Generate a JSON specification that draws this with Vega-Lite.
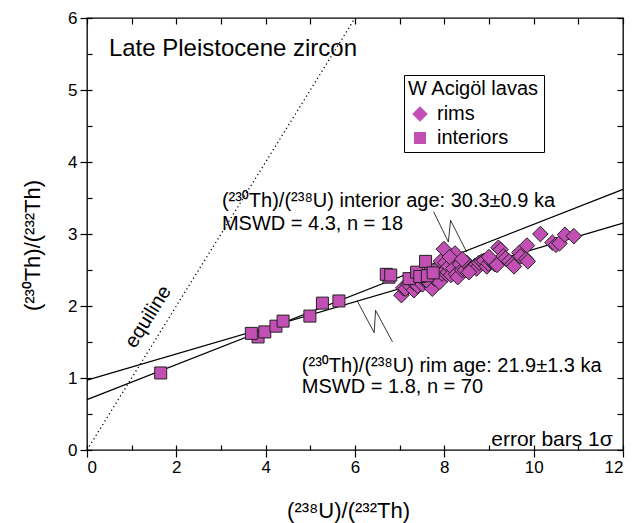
{
  "$schema": "https://vega.github.io/schema/vega-lite/v6.json",
  "width": 536,
  "height": 432,
  "autosize": {"type": "none"},
  "padding": {"left": 87, "top": 18, "right": 9, "bottom": 73},
  "config": {
    "font": "Liberation Sans, Noto Sans",
    "view": {"stroke": "black", "strokeWidth": 1.3},
    "axis": {
      "grid": false,
      "domain": false,
      "tickColor": "black",
      "tickWidth": 1.2,
      "labelColor": "black",
      "titleColor": "black",
      "labelFontSize": 17,
      "titleFontSize": 22,
      "titleFontWeight": "normal"
    }
  },
  "resolve": {"axis": {"x": "independent", "y": "independent"}},
  "layer": [
    {
      "data": {"values": [{"x": 0, "y": 0}, {"x": 6, "y": 6}]},
      "mark": {"type": "line", "color": "black", "strokeDash": [1.2, 3], "strokeWidth": 1.3},
      "encoding": {
        "x": {"field": "x", "type": "quantitative", "scale": {"domain": [0, 12], "nice": false},
          "axis": {"orient": "top", "values": [0,1,2,3,4,5,6,7,8,9,10,11,12], "labels": false, "tickSize": -6, "title": null}},
        "y": {"field": "y", "type": "quantitative", "scale": {"domain": [0, 6], "nice": false},
          "axis": {"orient": "right", "values": [0,0.5,1,1.5,2,2.5,3,3.5,4,4.5,5,5.5,6], "labels": false, "tickSize": -6, "title": null}}
      }
    },
    {
      "data": {"values": [
        {"isochron": "interior", "x": 0, "y": 0.70},
        {"isochron": "interior", "x": 12, "y": 3.62},
        {"isochron": "rim", "x": 0, "y": 0.97},
        {"isochron": "rim", "x": 12, "y": 3.15}
      ]},
      "mark": {"type": "line", "color": "black", "strokeWidth": 1.2},
      "encoding": {
        "x": {"field": "x", "type": "quantitative",
          "axis": {"orient": "bottom", "values": [0,1,2,3,4,5,6,7,8,9,10,11,12], "labels": false, "tickSize": -5, "title": null}},
        "y": {"field": "y", "type": "quantitative",
          "axis": {"orient": "left", "values": [0,0.5,1,1.5,2,2.5,3,3.5,4,4.5,5,5.5,6], "labels": false, "tickSize": -5, "title": null}},
        "detail": {"field": "isochron"}
      }
    },
    {
      "data": {"values": [
        {"leader": "interior", "seq": 1, "x": 7.76, "y": 3.31},
        {"leader": "interior", "seq": 2, "x": 8.09, "y": 2.89},
        {"leader": "interior", "seq": 3, "x": 8.14, "y": 3.19},
        {"leader": "interior", "seq": 4, "x": 8.50, "y": 2.75},
        {"leader": "rim", "seq": 1, "x": 6.05, "y": 2.07},
        {"leader": "rim", "seq": 2, "x": 6.43, "y": 1.63},
        {"leader": "rim", "seq": 3, "x": 6.46, "y": 1.94},
        {"leader": "rim", "seq": 4, "x": 6.84, "y": 1.50}
      ]},
      "mark": {"type": "line", "color": "black", "strokeWidth": 0.8},
      "encoding": {
        "x": {"field": "x", "type": "quantitative", "axis": null},
        "y": {"field": "y", "type": "quantitative", "axis": null},
        "detail": {"field": "leader"},
        "order": {"field": "seq", "type": "quantitative"}
      }
    },
    {
      "data": {"values": [
        {"type": "rims", "x": 7.04, "y": 2.15},
        {"type": "rims", "x": 7.08, "y": 2.25},
        {"type": "rims", "x": 7.13, "y": 2.24},
        {"type": "rims", "x": 7.20, "y": 2.30},
        {"type": "rims", "x": 7.28, "y": 2.35},
        {"type": "rims", "x": 7.32, "y": 2.22},
        {"type": "rims", "x": 7.32, "y": 2.32},
        {"type": "rims", "x": 7.40, "y": 2.28},
        {"type": "rims", "x": 7.45, "y": 2.40},
        {"type": "rims", "x": 7.51, "y": 2.30},
        {"type": "rims", "x": 7.55, "y": 2.36},
        {"type": "rims", "x": 7.60, "y": 2.44},
        {"type": "rims", "x": 7.65, "y": 2.32},
        {"type": "rims", "x": 7.71, "y": 2.29},
        {"type": "rims", "x": 7.73, "y": 2.24},
        {"type": "rims", "x": 7.78, "y": 2.38},
        {"type": "rims", "x": 7.82, "y": 2.50},
        {"type": "rims", "x": 7.87, "y": 2.39},
        {"type": "rims", "x": 7.89, "y": 2.33},
        {"type": "rims", "x": 7.92, "y": 2.62},
        {"type": "rims", "x": 7.95, "y": 2.45},
        {"type": "rims", "x": 7.99, "y": 2.79},
        {"type": "rims", "x": 8.02, "y": 2.60},
        {"type": "rims", "x": 8.06, "y": 2.44},
        {"type": "rims", "x": 8.08, "y": 2.47},
        {"type": "rims", "x": 8.10, "y": 2.55},
        {"type": "rims", "x": 8.15, "y": 2.43},
        {"type": "rims", "x": 8.20, "y": 2.52},
        {"type": "rims", "x": 8.24, "y": 2.73},
        {"type": "rims", "x": 8.26, "y": 2.44},
        {"type": "rims", "x": 8.30, "y": 2.40},
        {"type": "rims", "x": 8.35, "y": 2.58},
        {"type": "rims", "x": 8.40, "y": 2.50},
        {"type": "rims", "x": 8.46, "y": 2.50},
        {"type": "rims", "x": 8.50, "y": 2.60},
        {"type": "rims", "x": 8.53, "y": 2.57},
        {"type": "rims", "x": 8.60, "y": 2.52},
        {"type": "rims", "x": 8.69, "y": 2.56},
        {"type": "rims", "x": 8.72, "y": 2.52},
        {"type": "rims", "x": 8.78, "y": 2.60},
        {"type": "rims", "x": 8.84, "y": 2.62},
        {"type": "rims", "x": 8.89, "y": 2.63},
        {"type": "rims", "x": 8.95, "y": 2.55},
        {"type": "rims", "x": 8.99, "y": 2.59},
        {"type": "rims", "x": 9.05, "y": 2.62},
        {"type": "rims", "x": 9.13, "y": 2.58},
        {"type": "rims", "x": 9.18, "y": 2.57},
        {"type": "rims", "x": 9.21, "y": 2.81},
        {"type": "rims", "x": 9.26, "y": 2.78},
        {"type": "rims", "x": 9.32, "y": 2.69},
        {"type": "rims", "x": 9.37, "y": 2.66},
        {"type": "rims", "x": 9.45, "y": 2.62},
        {"type": "rims", "x": 9.52, "y": 2.58},
        {"type": "rims", "x": 9.56, "y": 2.55},
        {"type": "rims", "x": 9.68, "y": 2.74},
        {"type": "rims", "x": 9.71, "y": 2.69},
        {"type": "rims", "x": 9.83, "y": 2.65},
        {"type": "rims", "x": 9.85, "y": 2.84},
        {"type": "rims", "x": 9.87, "y": 2.62},
        {"type": "rims", "x": 10.15, "y": 3.00},
        {"type": "rims", "x": 10.42, "y": 2.88},
        {"type": "rims", "x": 10.50, "y": 2.85},
        {"type": "rims", "x": 10.58, "y": 2.87},
        {"type": "rims", "x": 10.70, "y": 2.99},
        {"type": "rims", "x": 10.90, "y": 2.97},
        {"type": "rims", "x": 8.12, "y": 2.68},
        {"type": "rims", "x": 8.40, "y": 2.65},
        {"type": "rims", "x": 7.60, "y": 2.36},
        {"type": "rims", "x": 8.55, "y": 2.47},
        {"type": "rims", "x": 9.00, "y": 2.68},
        {"type": "interiors", "x": 1.65, "y": 1.07},
        {"type": "interiors", "x": 3.83, "y": 1.57},
        {"type": "interiors", "x": 3.68, "y": 1.62},
        {"type": "interiors", "x": 3.98, "y": 1.64},
        {"type": "interiors", "x": 4.23, "y": 1.72},
        {"type": "interiors", "x": 4.39, "y": 1.79},
        {"type": "interiors", "x": 4.99, "y": 1.86},
        {"type": "interiors", "x": 5.27, "y": 2.04},
        {"type": "interiors", "x": 5.64, "y": 2.07},
        {"type": "interiors", "x": 6.76, "y": 2.40},
        {"type": "interiors", "x": 6.70, "y": 2.44},
        {"type": "interiors", "x": 6.80, "y": 2.43},
        {"type": "interiors", "x": 7.21, "y": 2.38},
        {"type": "interiors", "x": 7.38, "y": 2.47},
        {"type": "interiors", "x": 7.45, "y": 2.41},
        {"type": "interiors", "x": 7.62, "y": 2.42},
        {"type": "interiors", "x": 7.58, "y": 2.62},
        {"type": "interiors", "x": 7.75, "y": 2.46}
      ]},
      "mark": {"type": "point", "filled": true, "fill": "#c24fb3", "stroke": "#222222", "strokeWidth": 1, "opacity": 1},
      "encoding": {
        "x": {"field": "x", "type": "quantitative",
          "axis": {"orient": "bottom", "values": [0,2,4,6,8,10,12], "tickSize": 7, "labelPadding": 2,
            "title": "(²³⁸U)/(²³²Th)", "titleX": 261, "titleY": 60, "titleBaseline": "middle"}},
        "y": {"field": "y", "type": "quantitative",
          "axis": {"orient": "left", "values": [0,1,2,3,4,5,6], "tickSize": 7, "labelPadding": 3,
            "title": "(²³⁰Th)/(²³²Th)", "titleX": -55, "titleY": 227, "titleBaseline": "middle"}},
        "shape": {"field": "type", "type": "nominal",
          "scale": {"domain": ["rims", "interiors"], "range": ["diamond", "square"]},
          "legend": {"title": "W Acigöl lavas", "orient": "none", "legendX": 317, "legendY": 57,
            "padding": 4, "strokeColor": "black", "fillColor": "white", "titleFontSize": 20, "titleFontWeight": "normal",
            "labelFontSize": 20, "titlePadding": 5, "rowPadding": 4, "symbolOffset": 2, "labelOffset": 7, "titleColor": "black", "labelColor": "black",
            "symbolFillColor": "#c24fb3", "symbolStrokeColor": "#222222", "symbolStrokeWidth": 1, "symbolOpacity": 1}},
        "size": {"field": "type", "type": "nominal",
          "scale": {"domain": ["rims", "interiors"], "range": [240, 144]},
          "legend": {"title": "W Acigöl lavas", "orient": "none", "legendX": 317, "legendY": 57,
            "padding": 4, "strokeColor": "black", "fillColor": "white", "titleFontSize": 20, "titleFontWeight": "normal",
            "labelFontSize": 20, "titlePadding": 5, "rowPadding": 4, "symbolOffset": 2, "labelOffset": 7, "titleColor": "black", "labelColor": "black",
            "symbolFillColor": "#c24fb3", "symbolStrokeColor": "#222222", "symbolStrokeWidth": 1, "symbolOpacity": 1}}
      }
    },
    {
      "data": {"values": [
        {"label": "(²³⁰Th)/(²³⁸U) interior age: 30.3±0.9 ka", "x": 3.02, "y": 3.375},
        {"label": "MSWD = 4.3, n = 18", "x": 3.02, "y": 3.06},
        {"label": "(²³⁰Th)/(²³⁸U) rim age: 21.9±1.3 ka", "x": 4.81, "y": 1.09},
        {"label": "MSWD = 1.8, n = 70", "x": 4.81, "y": 0.79}
      ]},
      "mark": {"type": "text", "align": "left", "baseline": "alphabetic", "fontSize": 20, "color": "black"},
      "encoding": {
        "x": {"field": "x", "type": "quantitative", "axis": null},
        "y": {"field": "y", "type": "quantitative", "axis": null},
        "text": {"field": "label"}
      }
    },
    {
      "data": {"values": [{"label": "Late Pleistocene zircon", "x": 0.49, "y": 5.47}]},
      "mark": {"type": "text", "align": "left", "baseline": "alphabetic", "fontSize": 24, "color": "black"},
      "encoding": {
        "x": {"field": "x", "type": "quantitative", "axis": null},
        "y": {"field": "y", "type": "quantitative", "axis": null},
        "text": {"field": "label"}
      }
    },
    {
      "data": {"values": [{"label": "error bars 1σ", "x": 11.77, "y": 0.05}]},
      "mark": {"type": "text", "align": "right", "baseline": "alphabetic", "fontSize": 21, "color": "black"},
      "encoding": {
        "x": {"field": "x", "type": "quantitative", "axis": null},
        "y": {"field": "y", "type": "quantitative", "axis": null},
        "text": {"field": "label"}
      }
    },
    {
      "data": {"values": [{"label": "equiline", "x": 1.37, "y": 1.85}]},
      "mark": {"type": "text", "align": "center", "baseline": "middle", "fontSize": 20, "angle": 302, "color": "black"},
      "encoding": {
        "x": {"field": "x", "type": "quantitative", "axis": null},
        "y": {"field": "y", "type": "quantitative", "axis": null},
        "text": {"field": "label"}
      }
    }
  ]
}
